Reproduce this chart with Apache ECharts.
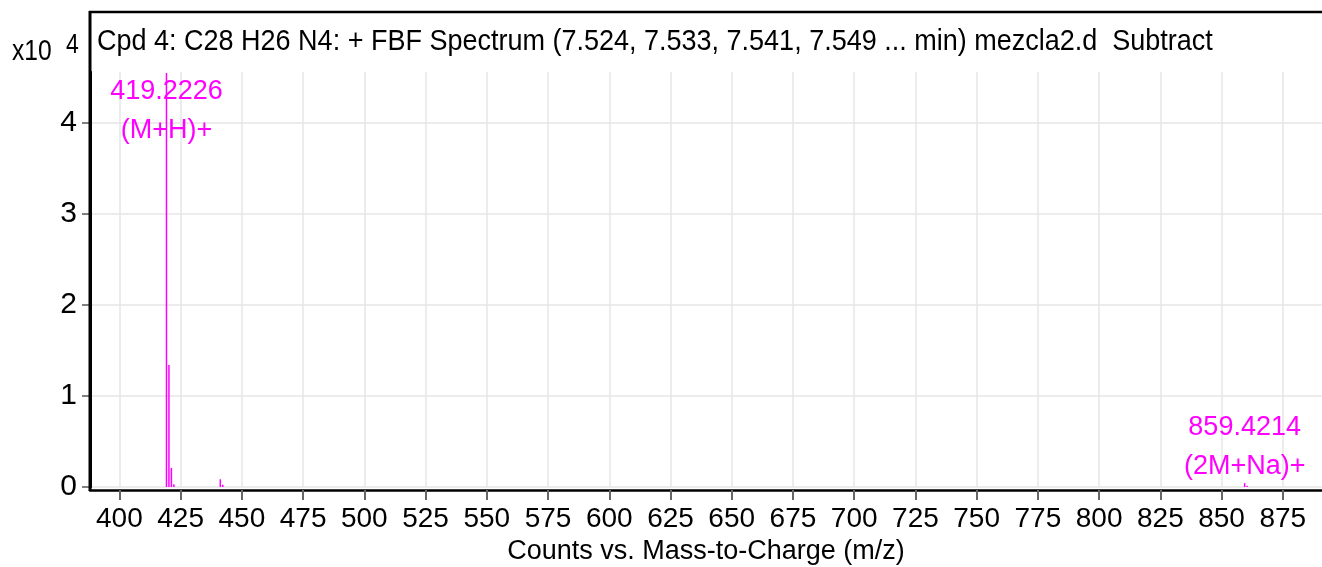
<!DOCTYPE html>
<html>
<head>
<meta charset="utf-8">
<script src="https://cdn.jsdelivr.net/npm/echarts@6/dist/echarts.min.js"></script>
<style>
html,body{margin:0;padding:0;background:#fff;overflow:hidden;}
#chart{width:1322px;height:567px;}
</style>
</head>
<body>
<div id="chart"></div>
<script>
// ---- data ----
const mzValues = [419.2226, 420.2259, 421.2290, 422.2320, 441.2046, 442.2080, 859.4214, 860.4248];
const counts   = [45500, 13400, 2100, 300, 850, 250, 420, 150];
const peakLabels = ['419.2226\n(M+H)+', '', '', '', '', '', '859.4214\n(2M+Na)+', ''];
const xTickValues = [400,425,450,475,500,525,550,575,600,625,650,675,700,725,750,775,800,825,850,875];
const yTickValues = [0, 10000, 20000, 30000, 40000];
const titleText = 'Cpd 4: C28 H26 N4: + FBF Spectrum (7.524, 7.533, 7.541, 7.549 ... min) mezcla2.d  Subtract';
const xAxisTitle = 'Counts vs. Mass-to-Charge (m/z)';
const scaleText = 'x10';
const scaleExp = '4';

const FONT = "'Liberation Sans', Arial, sans-serif";
const MAGENTA = '#ff00ff';

const seriesData = mzValues.map((m, i) => {
  const item = { value: [m, counts[i]] };
  if (peakLabels[i]) {
    const atTop = counts[i] > 40000;
    item.label = {
      show: true,
      formatter: peakLabels[i],
      position: atTop ? 'insideTop' : 'top',
      distance: atTop ? -1 : -3
    };
  }
  return item;
});

const chart = echarts.init(document.getElementById('chart'), null, {renderer: 'canvas'});
chart.setOption({
  animation: false,
  backgroundColor: '#ffffff',
  grid: { left: 90, right: 0, top: 72, bottom: 80, containLabel: false, outerBoundsMode: 'none' },
  xAxis: {
    type: 'value',
    min: 388,
    max: 891,
    offset: 3,
    name: xAxisTitle,
    nameLocation: 'middle',
    nameGap: 44,
    nameTextStyle: { fontFamily: FONT, fontSize: 27, color: '#000' },
    axisLine: { show: true, onZero: false, lineStyle: { color: '#000', width: 2.5 } },
    axisTick: { show: true, customValues: xTickValues, length: 10, lineStyle: { color: '#666', width: 2 } },
    axisLabel: { customValues: xTickValues, fontFamily: FONT, fontSize: 28, color: '#000', margin: 15 },
    splitLine: { show: true, lineStyle: { color: '#e6e6e6', width: 1.5 } }
  },
  yAxis: {
    type: 'value',
    min: 0,
    max: 45600,
    axisLine: { show: true, lineStyle: { color: '#000', width: 3 } },
    axisTick: { show: true, customValues: yTickValues, length: 8, lineStyle: { color: '#555', width: 1.5 } },
    axisLabel: { customValues: yTickValues, fontFamily: FONT, fontSize: 30, color: '#000', margin: 13,
                 formatter: v => String(v / 10000) },
    splitLine: { show: true, lineStyle: { color: '#e6e6e6', width: 1.5 } }
  },
  series: [{
    type: 'bar',
    barWidth: 1.5,
    itemStyle: { color: MAGENTA },
    label: { show: false, color: MAGENTA, fontFamily: FONT, fontSize: 27, lineHeight: 39 },
    data: seriesData,
    clip: false
  }],
  graphic: [
    { type: 'line', shape: { x1: 89, y1: 12, x2: 1322, y2: 12 }, style: { stroke: '#000', lineWidth: 2.5 }, z: 10 },
    { type: 'line', shape: { x1: 90, y1: 11, x2: 90, y2: 491 }, style: { stroke: '#000', lineWidth: 3 }, z: 10 },
    { type: 'text', x: 97, y: 42, scaleX: 0.9, style: { text: titleText, font: '30px ' + FONT, fill: '#000', textVerticalAlign: 'middle' } },
    { type: 'text', x: 12, y: 52, scaleX: 0.82, style: { text: scaleText, font: '30px ' + FONT, fill: '#000', textVerticalAlign: 'middle' } },
    { type: 'text', x: 66, y: 45, scaleX: 0.82, style: { text: scaleExp, font: '28px ' + FONT, fill: '#000', textVerticalAlign: 'middle' } }
  ]
});
</script>
</body>
</html>
